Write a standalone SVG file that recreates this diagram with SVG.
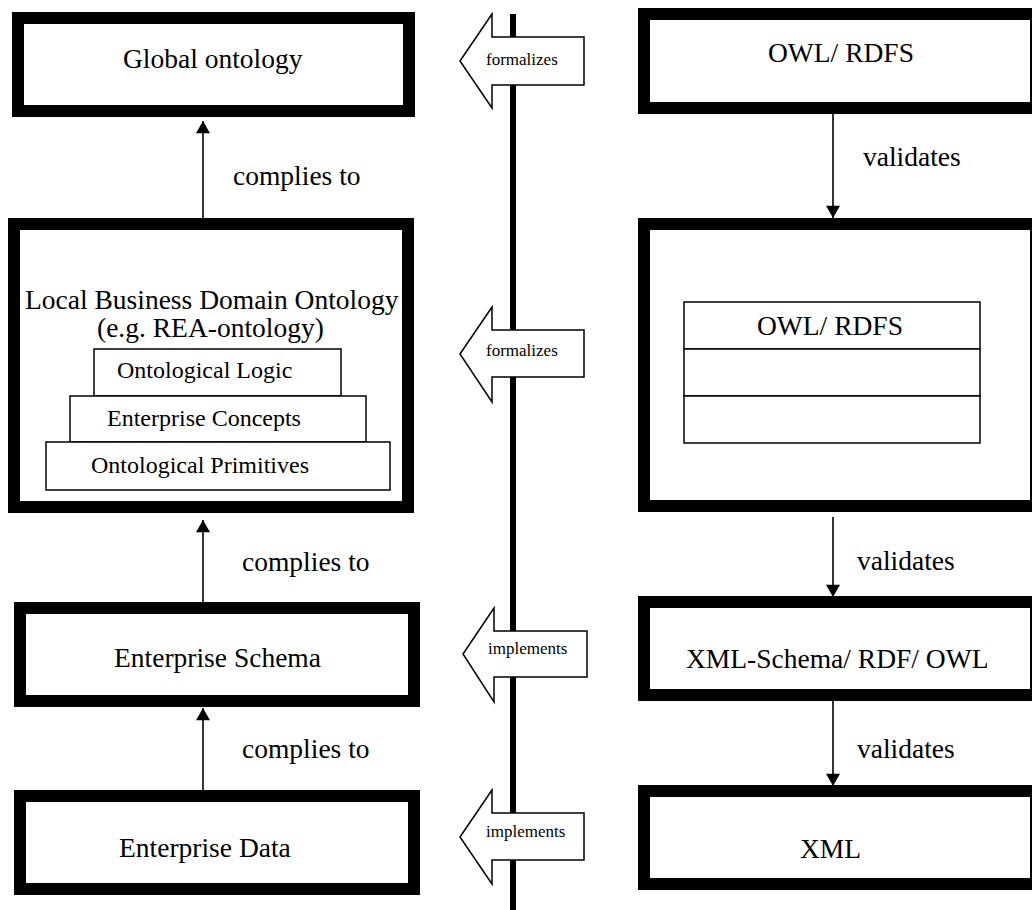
<svg xmlns="http://www.w3.org/2000/svg" width="1032" height="910" viewBox="0 0 1032 910">
<style>
  .box { fill: #fff; stroke: #000; stroke-width: 12; }
  .thin { fill: #fff; stroke: #000; stroke-width: 1.5; }
  .big { font-family: "Liberation Serif", "Times New Roman", serif; font-size: 27.5px; fill: #000; }
  .mid { font-family: "Liberation Serif", "Times New Roman", serif; font-size: 24px; fill: #000; }
  .sm { font-family: "Liberation Serif", "Times New Roman", serif; font-size: 17px; fill: #000; }
  .conn { stroke: #000; stroke-width: 1.6; fill: none; marker-end: url(#ah); }
  .fat { fill: #fff; stroke: #000; stroke-width: 1.5; stroke-linejoin: miter; }
</style>
<defs>
  <marker id="ah" markerUnits="userSpaceOnUse" markerWidth="16" markerHeight="14" refX="14" refY="8" orient="auto" viewBox="0 0 14 16">
    <path d="M0,0 L14,8 L0,16 Z" fill="#000"/>
  </marker>
</defs>

<!-- central divider line -->
<line id="divider" x1="513" y1="14" x2="513" y2="910" stroke="#000" stroke-width="6"/>

<g id="global-ontology">
  <rect class="box" x="18" y="18" width="391" height="93"/>
  <text class="big" x="123" y="68">Global ontology</text>
</g>

<g id="local-ontology">
  <rect class="box" x="14" y="224" width="394" height="283"/>
  <text class="big" x="25" y="309">Local Business Domain Ontology</text>
  <text class="big" x="97" y="337">(e.g. REA-ontology)</text>
  <rect class="thin" x="94" y="349" width="247" height="47"/>
  <rect class="thin" x="70" y="396" width="296" height="46"/>
  <rect class="thin" x="46" y="442" width="344" height="48"/>
  <text class="mid" x="117" y="378">Ontological Logic</text>
  <text class="mid" x="107" y="426">Enterprise Concepts</text>
  <text class="mid" x="91" y="473">Ontological Primitives</text>
</g>

<g id="enterprise-schema">
  <rect class="box" x="20" y="608" width="394" height="93"/>
  <text class="big" x="114" y="667">Enterprise Schema</text>
</g>

<g id="enterprise-data">
  <rect class="box" x="20" y="796" width="394" height="93"/>
  <text class="big" x="119" y="857">Enterprise Data</text>
</g>

<g id="owl-rdfs">
  <rect class="box" x="644" y="14" width="392" height="94"/>
  <text class="big" x="768" y="62">OWL/ RDFS</text>
</g>

<g id="owl-rdfs-stack">
  <rect class="box" x="644" y="224" width="392" height="282"/>
  <rect class="thin" x="684" y="302" width="296" height="47"/>
  <rect class="thin" x="684" y="349" width="296" height="47"/>
  <rect class="thin" x="684" y="396" width="296" height="47"/>
  <text class="big" x="757" y="335">OWL/ RDFS</text>
</g>

<g id="xml-schema">
  <rect class="box" x="644" y="602" width="392" height="93"/>
  <text class="big" x="686" y="668">XML-Schema/ RDF/ OWL</text>
</g>

<g id="xml">
  <rect class="box" x="644" y="791" width="392" height="93"/>
  <text class="big" x="800" y="858">XML</text>
</g>

<g id="connectors">
  <line class="conn" x1="203" y1="218" x2="203" y2="121"/>
  <line class="conn" x1="203" y1="602" x2="203" y2="520"/>
  <line class="conn" x1="203" y1="790" x2="203" y2="708"/>
  <line class="conn" x1="833" y1="114" x2="833" y2="218"/>
  <line class="conn" x1="833" y1="517" x2="833" y2="597"/>
  <line class="conn" x1="833" y1="701" x2="833" y2="786"/>
  <text class="big" x="233" y="185">complies to</text>
  <text class="big" x="242" y="571">complies to</text>
  <text class="big" x="242" y="758">complies to</text>
  <text class="big" x="863" y="166">validates</text>
  <text class="big" x="857" y="570">validates</text>
  <text class="big" x="857" y="758">validates</text>

  <g id="arrow-formalizes-1">
    <polygon class="fat" points="460,61 492,14 492,37 584,37 584,85 492,85 492,108"/>
    <text class="sm" x="486" y="65">formalizes</text>
  </g>
  <g id="arrow-formalizes-2">
    <polygon class="fat" points="460,354 492,307 492,330 584,330 584,377 492,377 492,402"/>
    <text class="sm" x="486" y="356">formalizes</text>
  </g>
  <g id="arrow-implements-1">
    <polygon class="fat" points="463,654 494,608 494,631 587,631 587,677 494,677 494,702"/>
    <text class="sm" x="488" y="654">implements</text>
  </g>
  <g id="arrow-implements-2">
    <polygon class="fat" points="460,837 492,790 492,813 584,813 584,860 492,860 492,884"/>
    <text class="sm" x="486" y="837">implements</text>
  </g>
</g>
</svg>
